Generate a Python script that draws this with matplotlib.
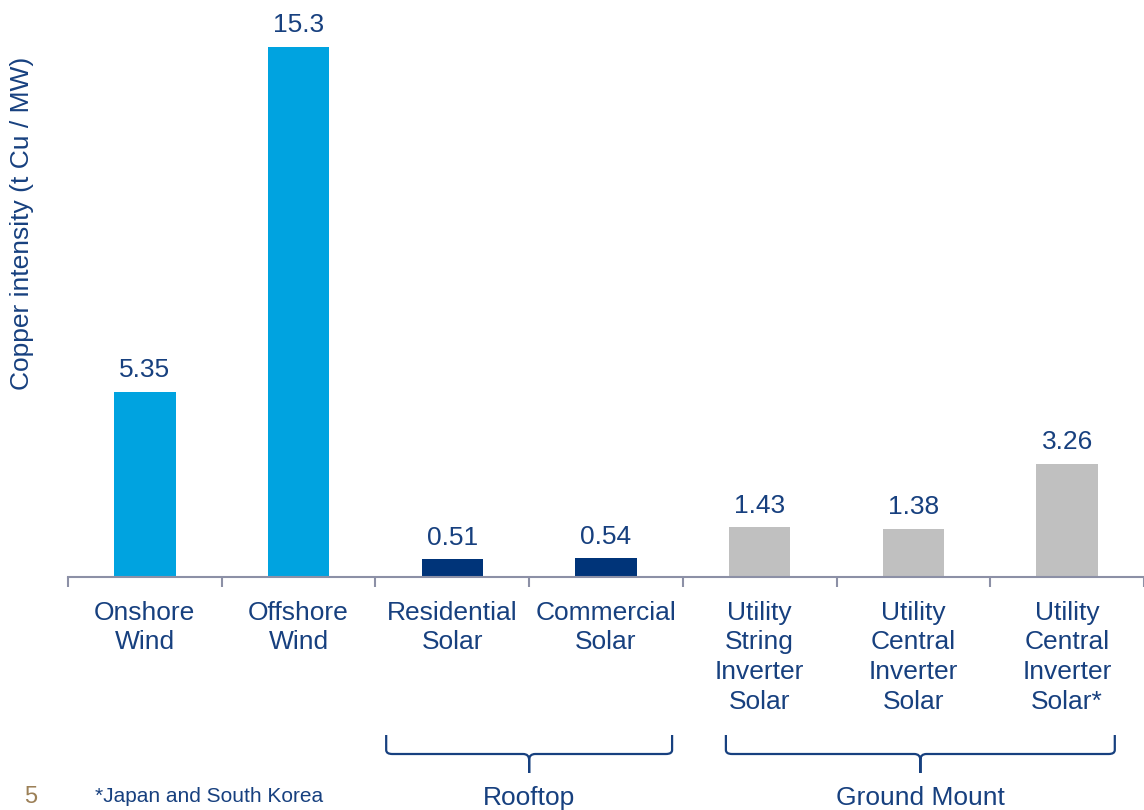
import numpy as np
import matplotlib.pyplot as plt
from matplotlib.path import Path
from matplotlib.patches import PathPatch
import matplotlib.transforms as mtransforms

# ----------
# > Data <
# ----------
categories = ["Onshore\nWind", "Offshore\nWind", "Residential\nSolar", "Commercial\nSolar",
              "Utility\nString\nInverter\nSolar", "Utility\nCentral\nInverter\nSolar",
              "Utility\nCentral\nInverter\nSolar*"]
values = [5.35, 15.3, 0.51, 0.54, 1.43, 1.38, 3.26]
value_labels = ["5.35", "15.3", "0.51", "0.54", "1.43", "1.38", "3.26"]
groups = ["Rooftop", "Ground Mount"]
group_spans = [(1.57, 3.43), (3.78, 6.31)]

# color palette
WIND_COLOR = "#00A3E0"
ROOF_COLOR = "#003479"
GROUND_COLOR = "#C0C0C0"
TEXT_COLOR = "#17407F"
AXIS_COLOR = "#8C90A6"
bar_colors = [WIND_COLOR, WIND_COLOR, ROOF_COLOR, ROOF_COLOR, GROUND_COLOR, GROUND_COLOR, GROUND_COLOR]

plt.rcParams["font.family"] = ["Liberation Sans", "DejaVu Sans"]

W, H = 1144, 810
fig = plt.figure(figsize=(W / 100, H / 100), dpi=100)

# axes placed in pixel terms: baseline at y=577, left edge at x=68
step = 155.6
ax = fig.add_axes([68 / W, (H - 577) / H, (W - 68) / W, 577 / H])

x = np.arange(len(categories))
ax.bar(x, values, width=0.4, color=bar_colors)

for xi, v, lab in zip(x, values, value_labels):
    ax.annotate(lab, (xi, v), xytext=(0, 7), textcoords="offset points",
                ha="center", va="bottom", fontsize=19, color=TEXT_COLOR)

ax.set_xlim(-0.5, -0.5 + (W - 68) / step)
ax.set_ylim(0, 577 / 34.64)

for s in ["top", "right", "left"]:
    ax.spines[s].set_visible(False)
ax.spines["bottom"].set_color(AXIS_COLOR)
ax.spines["bottom"].set_linewidth(1.5)
ax.set_yticks([])

ax.set_xticks(x)
ax.set_xticklabels(categories, fontsize=19, color=TEXT_COLOR, linespacing=1.3)
ax.tick_params(axis="x", which="major", length=0, pad=17)
ax.set_xticks(np.arange(-0.5, len(categories) + 0.5, 1), minor=True)
ax.tick_params(axis="x", which="minor", length=7, width=1.5, color=AXIS_COLOR)

fig.text(22 / W, 1 - 223 / H, "Copper intensity (t Cu / MW)", rotation=90,
         ha="center", va="center", fontsize=19, color=TEXT_COLOR)

# braces under the group labels
trans = mtransforms.blended_transform_factory(ax.transData, fig.transFigure)
to_fy = lambda py: 1 - py / H
for (x0, x1), name in zip(group_spans, groups):
    xm = (x0 + x1) / 2
    r = 0.04
    verts = [
        (x0, to_fy(735)), (x0, to_fy(750)),
        (x0, to_fy(754)), (x0 + r, to_fy(754)),
        (xm - r, to_fy(754)),
        (xm, to_fy(754)), (xm, to_fy(760)),
        (xm, to_fy(773)),
        (xm, to_fy(773)), (xm, to_fy(760)),
        (xm, to_fy(754)), (xm + r, to_fy(754)),
        (x1 - r, to_fy(754)),
        (x1, to_fy(754)), (x1, to_fy(750)),
        (x1, to_fy(735)),
    ]
    codes = [Path.MOVETO, Path.LINETO,
             Path.CURVE3, Path.CURVE3,
             Path.LINETO,
             Path.CURVE3, Path.CURVE3,
             Path.LINETO,
             Path.MOVETO, Path.LINETO,
             Path.CURVE3, Path.CURVE3,
             Path.LINETO,
             Path.CURVE3, Path.CURVE3,
             Path.LINETO]
    patch = PathPatch(Path(verts, codes), transform=trans, fill=False,
                      edgecolor=TEXT_COLOR, lw=1.6, clip_on=False)
    fig.add_artist(patch)
    fig.text(xm, to_fy(798), name, transform=trans,
             fontsize=19, color=TEXT_COLOR, ha="center", va="center")

# footnote and page number
fig.text(95 / W, to_fy(797), "*Japan and South Korea", fontsize=15, color=TEXT_COLOR,
         ha="left", va="center")
fig.text(24 / W, to_fy(797), "5", fontsize=17, color="#9C8057", ha="left", va="center")

fig.savefig("out.png", dpi=100)
